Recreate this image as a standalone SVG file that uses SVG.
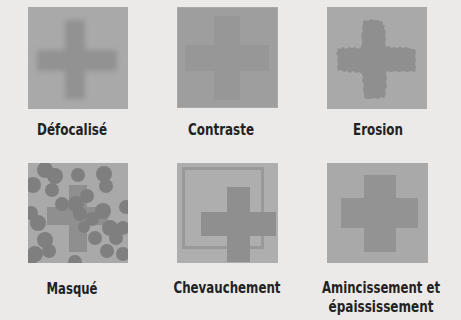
<svg xmlns="http://www.w3.org/2000/svg" width="461" height="320" viewBox="0 0 461 320">
<style>
.lbl{font-family:"DejaVu Sans Condensed","Liberation Sans Narrow","Liberation Sans",sans-serif;font-weight:bold;font-size:15px;fill:#222;text-anchor:middle}
.sq{fill:#a9a9a9}
.cr{fill:#8f8f8f}
.dot{fill:#7f7f7f}
</style>
<defs>
<filter id="blur" x="-20%" y="-20%" width="140%" height="140%"><feGaussianBlur stdDeviation="2.6"/></filter>
<clipPath id="c4"><rect x="28" y="163" width="100" height="100"/></clipPath>
<clipPath id="c1"><rect x="28" y="7" width="100" height="102"/></clipPath>
</defs>
<rect width="461" height="320" fill="#ebeae8"/>

<g id="defocalise">
<rect class="sq" x="28" y="7" width="100" height="102"/>
<g clip-path="url(#c1)" filter="url(#blur)" fill="#929292">
<rect x="65" y="20" width="20" height="79"/>
<rect x="37" y="50" width="80" height="21"/>
</g>
<text class="lbl" x="72" y="135" textLength="70" lengthAdjust="spacingAndGlyphs">Défocalisé</text>
</g>

<g id="contraste">
<rect x="177" y="7" width="101" height="101" fill="#9e9e9e"/>
<g fill="#979797">
<rect x="214" y="16" width="26" height="84"/>
<rect x="185" y="45" width="84" height="26"/>
</g>
<g fill="none" stroke="#a0a0a0" stroke-width="1">
<path d="M185.5 16.5H214M240 16.5H269.5V45M269.5 71V99.5H240M214 99.5H185.5V71M185.5 45V16.5"/>
</g>
<rect x="177.5" y="7.5" width="100" height="100" fill="none" stroke="#a8a8a8" stroke-width="1"/>
<text class="lbl" x="221" y="135" textLength="66" lengthAdjust="spacingAndGlyphs">Contraste</text>
</g>

<g id="erosion">
<rect class="sq" x="327" y="7" width="100" height="102"/>
<polygon class="cr" points="363,21 366,20 368,21 371,19 374,20 377,20 380,21 383,22 383,25 385,25 384,28 386,32 385,35 386,39 385,43 386,47 389,46 391,48 394,47 397,48 400,47 403,48 406,47 409,48 412,49 415,49 416,52 415,56 416,60 415,64 416,68 415,72 411,71 407,72 403,71 399,72 395,71 391,72 387,71 386,74 387,78 386,82 387,86 385,90 386,94 384,98 381,97 378,99 374,98 370,99 366,99 364,97 364,93 363,89 364,85 362,81 363,77 362,74 359,72 356,73 353,71 350,73 347,71 344,72 341,70 338,71 337,67 338,64 337,60 338,57 336,53 338,51 337,48 340,49 343,47 346,49 349,47 352,48 355,47 358,49 361,47 362,43 362,39 361,35 363,31 362,27 363,24"/>
<text class="lbl" x="378" y="135" textLength="50" lengthAdjust="spacingAndGlyphs">Erosion</text>
</g>

<g id="masque">
<rect class="sq" x="28" y="163" width="100" height="100"/>
<g clip-path="url(#c4)">
<g fill="#8f8f8f">
<rect x="69" y="185" width="18" height="67"/>
<rect x="47" y="207" width="61" height="18"/>
</g>
<g class="dot">
<circle cx="45" cy="170" r="8"/>
<circle cx="55" cy="176" r="8"/>
<circle cx="33" cy="185" r="8"/>
<circle cx="52" cy="190" r="7"/>
<circle cx="78" cy="175" r="7"/>
<circle cx="104" cy="174" r="8"/>
<circle cx="106" cy="186" r="7"/>
<circle cx="87" cy="196" r="7"/>
<circle cx="62" cy="204" r="7"/>
<circle cx="76" cy="204" r="8"/>
<circle cx="126" cy="207" r="7"/>
<circle cx="103" cy="211" r="8"/>
<circle cx="92" cy="219" r="7"/>
<circle cx="31" cy="213" r="7"/>
<circle cx="38" cy="223" r="8"/>
<circle cx="110" cy="228" r="8"/>
<circle cx="123" cy="228" r="7"/>
<circle cx="95" cy="238" r="7"/>
<circle cx="116" cy="238" r="7"/>
<circle cx="45" cy="240" r="8"/>
<circle cx="49" cy="251" r="7"/>
<circle cx="35" cy="254" r="8"/>
<circle cx="107" cy="251" r="7"/>
<circle cx="123" cy="254" r="7"/>
<circle cx="75" cy="262" r="7"/>
<circle cx="31" cy="263" r="6"/>
<circle cx="80" cy="214" r="7"/>
<circle cx="84" cy="227" r="6"/>
</g>
</g>
<text class="lbl" x="72" y="294" textLength="51" lengthAdjust="spacingAndGlyphs">Masqué</text>
</g>

<g id="chevauchement">
<rect x="177" y="163" width="101" height="100" fill="#aeaeae"/>
<rect x="183.5" y="168.5" width="79" height="79" fill="none" stroke="#999" stroke-width="3"/>
<g fill="#8f8f8f">
<rect x="227" y="187" width="23" height="75"/>
<rect x="201" y="212" width="75" height="24"/>
</g>
<text class="lbl" x="227" y="293" textLength="107" lengthAdjust="spacingAndGlyphs">Chevauchement</text>
</g>

<g id="amincissement">
<rect class="sq" x="327" y="163" width="101" height="100"/>
<g fill="#939393">
<rect x="364" y="175" width="32" height="77"/>
<rect x="341" y="198" width="77" height="30"/>
</g>
<text class="lbl" x="381" y="293" textLength="118" lengthAdjust="spacingAndGlyphs">Amincissement et</text>
<text class="lbl" x="381" y="312" textLength="105" lengthAdjust="spacingAndGlyphs">épaississement</text>
</g>
</svg>
